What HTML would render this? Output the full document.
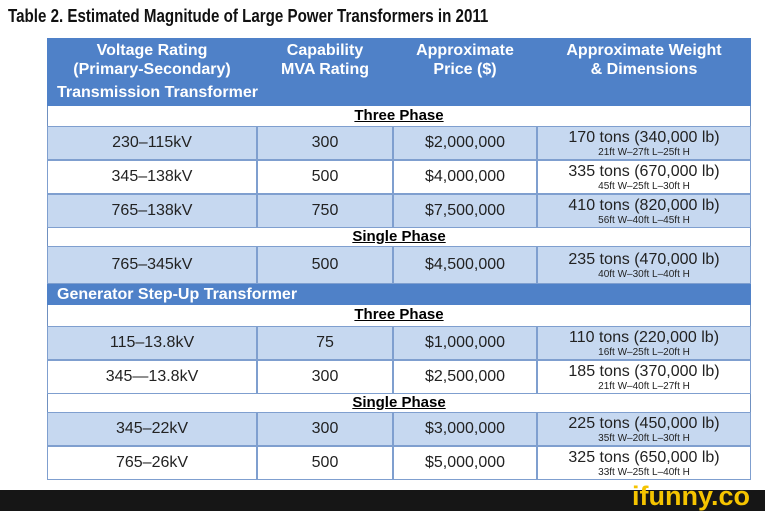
<!DOCTYPE html>
<html><head><style>
body{margin:0;width:765px;height:511px;background:#fff;position:relative;overflow:hidden;font-family:"Liberation Sans",Arial,sans-serif;}
.a{position:absolute;}
.t{font-family:"Liberation Sans",sans-serif;font-weight:bold;font-size:18px;left:8px;top:6px;color:#111;transform:scaleX(0.84);transform-origin:left;white-space:nowrap;}
.hdr{background:#4f81c8;color:#fff;font-weight:bold;font-size:16px;text-align:center;line-height:19px;}
.band{background:#4f81c8;color:#fff;font-weight:bold;font-size:16px;line-height:22px;padding-left:10px;box-sizing:border-box;}
.ph{background:#fff;text-align:center;font-weight:bold;font-size:15px;text-decoration:underline;line-height:20px;border-left:1px solid #6f90c0;border-right:1px solid #6f90c0;box-sizing:border-box;}
.c{display:flex;align-items:center;justify-content:center;font-size:16px;color:#222;border:1px solid #7f9fcf;box-sizing:border-box;text-align:center;flex-direction:column;}
.s{background:#c6d8f0;}
.w{background:#fff;}
.c small{font-size:10px;line-height:11px;}
.c span{line-height:18px;}
</style></head><body>
<div class="a t">Table 2. Estimated Magnitude of Large Power Transformers in 2011</div>
<div class="a hdr" style="left:47px;top:38px;width:704px;height:44px;"></div>
<div class="a hdr" style="left:47px;top:41px;width:210px;">Voltage Rating<br>(Primary-Secondary)</div>
<div class="a hdr" style="left:257px;top:41px;width:136px;">Capability<br>MVA Rating</div>
<div class="a hdr" style="left:393px;top:41px;width:144px;">Approximate<br>Price ($)</div>
<div class="a hdr" style="left:537px;top:41px;width:214px;">Approximate Weight<br>&amp; Dimensions</div>
<div class="a band" style="left:47px;top:82px;width:704px;height:24px;">Transmission Transformer</div>
<div class="a ph" style="left:47px;top:106px;width:704px;height:20px;">Three Phase</div>
<div id="rows"></div>
<div class="a ph" style="left:47px;top:228px;width:704px;height:18px;line-height:18px;">Single Phase</div>
<div class="a band" style="left:47px;top:284px;width:704px;height:21px;line-height:21px;">Generator Step-Up Transformer</div>
<div class="a ph" style="left:47px;top:305px;width:704px;height:21px;">Three Phase</div>
<div class="a ph" style="left:47px;top:394px;width:704px;height:18px;line-height:18px;">Single Phase</div>
<div class="a" style="left:0;top:490px;width:765px;height:21px;background:#161616;"></div>
<div class="a" style="left:632px;top:481px;font-weight:bold;font-size:27px;color:#f5c400;line-height:30px;">ifunny.co</div>
<script>
var R=[[126,160,'s','230–115kV','300','$2,000,000','170 tons (340,000 lb)','21ft W–27ft L–25ft H'],
[160,194,'w','345–138kV','500','$4,000,000','335 tons (670,000 lb)','45ft W–25ft L–30ft H'],
[194,228,'s','765–138kV','750','$7,500,000','410 tons (820,000 lb)','56ft W–40ft L–45ft H'],
[246,284,'s','765–345kV','500','$4,500,000','235 tons (470,000 lb)','40ft W–30ft L–40ft H'],
[326,360,'s','115–13.8kV','75','$1,000,000','110 tons (220,000 lb)','16ft W–25ft L–20ft H'],
[360,394,'w','345—13.8kV','300','$2,500,000','185 tons (370,000 lb)','21ft W–40ft L–27ft H'],
[412,446,'s','345–22kV','300','$3,000,000','225 tons (450,000 lb)','35ft W–20ft L–30ft H'],
[446,480,'w','765–26kV','500','$5,000,000','325 tons (650,000 lb)','33ft W–25ft L–40ft H']];
var X=[47,257,393,537,751],h='';
R.forEach(function(r){for(var i=0;i<4;i++){var txt=i<3?r[3+i]:'<span>'+r[6]+'</span><small>'+r[7]+'</small>';
h+='<div class="a c '+r[2]+'" style="left:'+X[i]+'px;top:'+r[0]+'px;width:'+(X[i+1]-X[i])+'px;height:'+(r[1]-r[0])+'px;">'+txt+'</div>';}});
document.getElementById('rows').innerHTML=h;
</script>
</body></html>
